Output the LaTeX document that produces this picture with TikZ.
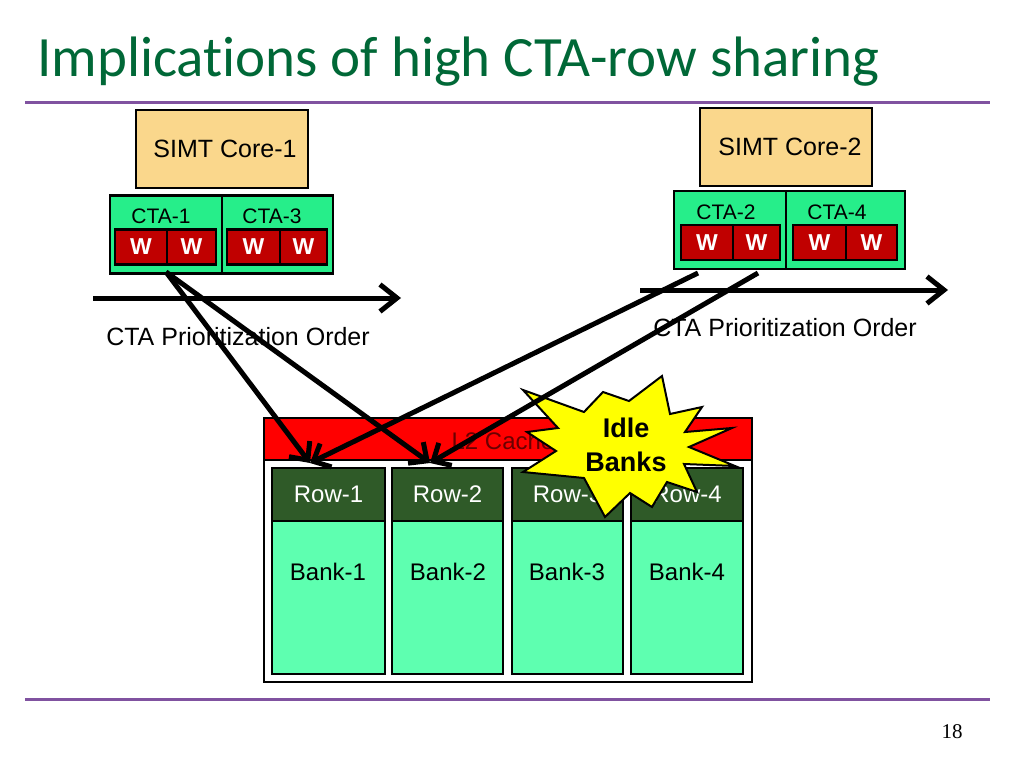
\documentclass[tikz,border=0pt]{standalone}
\usepackage{fontspec}
\setmainfont{Liberation Sans}
\newfontfamily\titlefont[Ligatures={NoCommon,NoContextual}]{Carlito}
\newfontfamily\numfont{Liberation Serif}
\usetikzlibrary{arrows.meta}
\definecolor{titlegreen}{RGB}{0,104,55}
\definecolor{rulepurple}{RGB}{128,82,160}
\definecolor{corefill}{RGB}{250,215,140}
\definecolor{ctafill}{RGB}{38,238,138}
\definecolor{wfill}{RGB}{192,0,0}
\definecolor{rowfill}{RGB}{47,90,40}
\definecolor{bankfill}{RGB}{94,255,176}
\definecolor{l2text}{RGB}{105,0,0}
\definecolor{staryellow}{RGB}{255,255,0}
\tikzset{
  box/.style={draw=black, line width=2.5, inner sep=0, anchor=center},
  corebox/.style={box, fill=corefill, minimum width=172, minimum height=78,
    font=\fontsize{25}{30}\selectfont},
  ctabox/.style={box, fill=ctafill, minimum height=78},
  ctalabel/.style={inner sep=0, font=\fontsize{21}{25}\selectfont},
  wbox/.style={box, fill=wfill, minimum height=35, text=white,
    font=\fontsize{23}{27}\selectfont\bfseries},
  rowbox/.style={box, fill=rowfill, minimum height=53, text=white,
    font=\fontsize{24}{28}\selectfont},
  bankbox/.style={box, fill=bankfill, minimum height=153},
  banklabel/.style={inner sep=0, font=\fontsize{24}{28}\selectfont},
  orderlabel/.style={inner sep=0, font=\fontsize{25}{30}\selectfont},
  orderarrow/.style={line width=5, -{Straight Barb[length=17,width=27]}},
  reqline/.style={line width=5, -{Straight Barb[length=14,width=26]}},
  rulebar/.style={line width=3, draw=rulepurple}
}
\begin{document}
\begin{tikzpicture}[x=1pt, y=-1pt]
\useasboundingbox[fill=white] (0,0) rectangle (1024,768);

% title and rules
\node[anchor=base west, inner sep=0, text=titlegreen,
  font=\titlefont\fontsize{57}{64}\selectfont] (title) at (37,77)
  {Implications of high CTA-row sharing};
\coordinate (r1a) at (25,102); \coordinate (r1b) at (990,102);
\coordinate (r2a) at (25,699); \coordinate (r2b) at (990,699);
\draw[rulebar] (r1a) -- (r1b);
\draw[rulebar] (r2a) -- (r2b);
\node[inner sep=0, font=\numfont\fontsize{21}{25}\selectfont] (pnum) at (952,732) {18};

% SIMT core 1
\node[corebox] (core1) at (222,149) {\hspace*{6pt}SIMT Core-1};
\node[ctabox, minimum width=112] (cta1) at (166,234.5) {};
\node[ctabox, minimum width=111] (cta3) at (277.5,234.5) {};
\node[ctalabel] (cta1l) at (161,216) {CTA-1};
\node[ctalabel] (cta3l) at (272,216) {CTA-3};
\node[wbox, minimum width=52] (w11) at (141,247) {W};
\node[wbox, minimum width=49] (w12) at (191.5,247) {W};
\node[wbox, minimum width=53] (w31) at (253.5,247) {W};
\node[wbox, minimum width=47] (w32) at (303.5,247) {W};

% SIMT core 2
\node[corebox] (core2) at (786,147) {\hspace*{8pt}SIMT Core-2};
\node[ctabox, minimum width=112] (cta2) at (730,230) {};
\node[ctabox, minimum width=119] (cta4) at (845.5,230) {};
\node[ctalabel] (cta2l) at (726,212) {CTA-2};
\node[ctalabel] (cta4l) at (837,212) {CTA-4};
\node[wbox, minimum width=52] (w21) at (707,242.5) {W};
\node[wbox, minimum width=47] (w22) at (756.5,242.5) {W};
\node[wbox, minimum width=53] (w41) at (819.5,242.5) {W};
\node[wbox, minimum width=51] (w42) at (871.5,242.5) {W};

% prioritization arrows
\coordinate (a1s) at (93,298); \coordinate (a1e) at (401,298);
\coordinate (a2s) at (640,290); \coordinate (a2e) at (948,290);
\draw[orderarrow] (a1s) -- (a1e);
\draw[orderarrow] (a2s) -- (a2e);
\node[orderlabel] (ord1) at (238,337) {CTA Prioritization Order};
\node[orderlabel] (ord2) at (785,328) {CTA Prioritization Order};

% L2 cache
\node[box, fill=red, minimum width=488, minimum height=42] (l2) at (508,439) {};
\node[inner sep=0, text=l2text, font=\fontsize{24}{28}\selectfont] (l2l) at (503,441) {L2 Cache};
\node[box, fill=white, minimum width=488, minimum height=222] (l2body) at (508,571) {};
\node[rowbox, minimum width=113] (row1) at (328.5,494.5) {Row-1};
\node[rowbox, minimum width=111] (row2) at (447.5,494.5) {Row-2};
\node[rowbox, minimum width=111] (row3) at (567.5,494.5) {Row-3};
\node[rowbox, minimum width=112] (row4) at (687,494.5) {Row-4};
\node[bankbox, minimum width=113] (bank1) at (328.5,597.5) {};
\node[bankbox, minimum width=111] (bank2) at (447.5,597.5) {};
\node[bankbox, minimum width=111] (bank3) at (567.5,597.5) {};
\node[bankbox, minimum width=112] (bank4) at (687,597.5) {};
\node[banklabel] (bank1l) at (328,572) {Bank-1};
\node[banklabel] (bank2l) at (448,572) {Bank-2};
\node[banklabel] (bank3l) at (567,572) {Bank-3};
\node[banklabel] (bank4l) at (687,572) {Bank-4};

% idle banks starburst
\filldraw[fill=staryellow, draw=black, line width=2, line join=miter]
  (523,390) -- (584,412) -- (603,392) -- (629,401) -- (662,376) -- (670,414)
  -- (702,407) -- (685,432) -- (732,428) -- (689,447) -- (735,466) -- (684,464)
  -- (697,492) -- (667,482) -- (652,507) -- (630,493) -- (605,517) -- (584,478)
  -- (523,472) -- (556,451) -- (527,432) -- (558,428) -- cycle;
\node[inner sep=0, align=center, font=\fontsize{27}{34}\selectfont\bfseries] (idle)
  at (626,445) {Idle\\Banks};

% request lines
\coordinate (s1) at (166,272);
\coordinate (s2) at (698,273);
\coordinate (s3) at (758,273);
\coordinate (t1) at (310,463);
\coordinate (t2) at (430,463);
\draw[reqline] (s1) -- (t1);
\draw[reqline] (s1) -- (t2);
\draw[reqline] (s2) -- (t1);
\draw[reqline] (s3) -- (t2);
\end{tikzpicture}
\end{document}
